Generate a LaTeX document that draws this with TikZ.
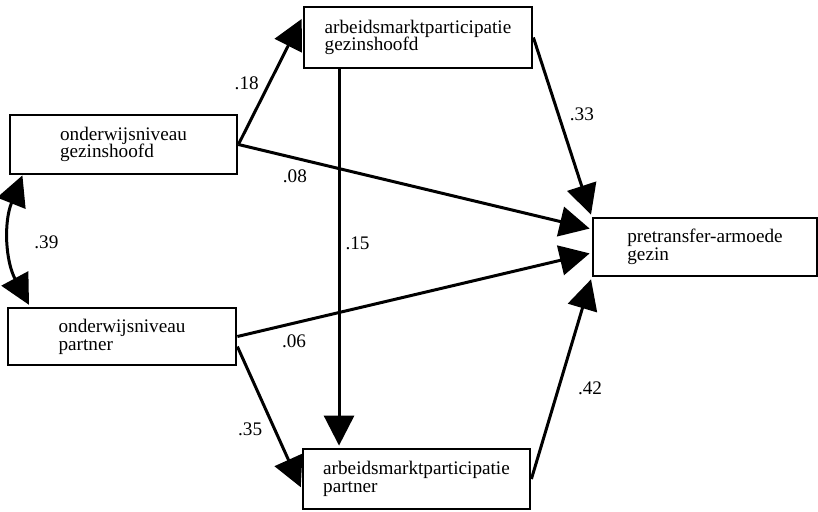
\documentclass[tikz,border=0pt]{standalone}
\usepackage{fontspec}
\setmainfont{Liberation Serif}
\usetikzlibrary{arrows.meta}

\begin{document}
\begin{tikzpicture}[x=0.5pt,y=0.5pt,->,>={Triangle[length=15pt,width=15pt]},shorten >=1pt,line width=1.5pt,
    var/.style={draw,rectangle,line width=1.4pt,align=left,inner sep=0pt,font=\fontsize{9.6}{8.9}\selectfont},
    coef/.style={font=\fontsize{9.6}{11}\selectfont,inner sep=1pt}]
                    \useasboundingbox (0,0) rectangle (818,-512);
                    \node[var,minimum width=113.5pt,minimum height=29.5pt] (oh) at (123.5,-144.5) {onderwijsniveau\\gezinshoofd};
                    \node[var,minimum width=114pt,minimum height=28.5pt] (op) at (122,-336.5) {onderwijsniveau\\partner};
                    \node[var,minimum width=114pt,minimum height=30.5pt] (ah) at (418,-37.5) {arbeidsmarktparticipatie\\gezinshoofd};
                    \node[var,minimum width=113.5pt,minimum height=30pt] (ap) at (416.5,-479) {arbeidsmarktparticipatie\\partner};
                    \node[var,minimum width=112pt,minimum height=29pt] (arm) at (705,-247) {pretransfer-armoede\\gezin};

                    \path
                    (oh.east) edge node[coef,left=3.5pt,pos=.48] {.18} (ah.170)
                              edge node[coef,below=4pt,pos=.16] {.08} (arm.171)
                    (op.east) edge node[coef,below=4pt,pos=.16] {.06} (arm.183)
                    (op.-5)   edge node[coef,left=4.5pt,pos=.58] {.35} (ap.185)
                    (ah.202)  edge node[coef,right=1.5pt,pos=.46] {.15} (ah.202 |- ap.north)
                    (ah.east) edge node[coef,right=4pt,pos=.43] {.33} (arm.north west)
                    (ap.east) edge node[coef,right=8pt,pos=.45] {.42} (arm.south west)
                    (oh.197)  edge[<->,bend right=25] node[coef,right=10.5pt] {.39} (op.162)
                    ;
                \end{tikzpicture}
\end{document}
